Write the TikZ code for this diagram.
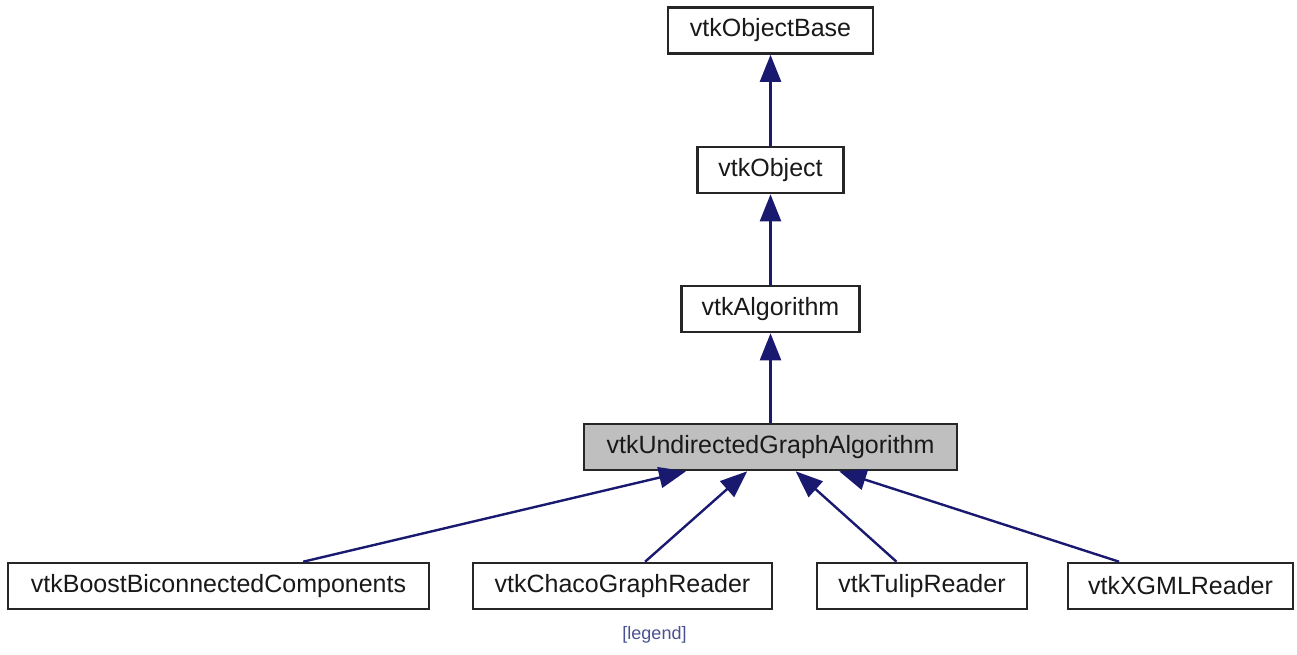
\documentclass[tikz,border=0pt]{standalone}
\usepackage{fontspec}
\setmainfont{Liberation Sans}
\usetikzlibrary{arrows.meta,calc}
\definecolor{edgeblue}{HTML}{191970}
\definecolor{legendblue}{HTML}{4A5190}
\definecolor{focusgray}{HTML}{BFBFBF}
\begin{document}
\begin{tikzpicture}[x=1pt,y=-1pt,
  classbox/.style={draw=black!85, line width=2.6pt, fill=white, rectangle,
    inner sep=0pt, minimum height=46pt, text=black!90,
    font=\fontsize{25}{30}\selectfont},
  focusbox/.style={classbox, fill=focusgray},
  inherit/.style={draw=edgeblue, line width=2.4pt,
    -{Triangle[length=27pt,width=21pt,fill=edgeblue]}},
  legendtext/.style={text=legendblue, font=\fontsize{18}{22}\selectfont}]
  \useasboundingbox (0,0) rectangle (1297,655);

  % class hierarchy, top to bottom
  \node[classbox, minimum width=205pt] (base) at (770.5,30.5) {vtkObjectBase};
  \node[classbox, minimum width=146pt] (obj) at (770.5,170) {vtkObject};
  \node[classbox, minimum width=178pt] (algo) at (770.5,309) {vtkAlgorithm};
  \node[focusbox, minimum width=373pt] (uga) at (770.5,447) {vtkUndirectedGraphAlgorithm};

  % derived readers and filters
  \node[classbox, minimum width=421pt] (boost) at (218.5,586) {vtkBoostBiconnectedComponents};
  \node[classbox, minimum width=299pt] (chaco) at (622.5,586) {vtkChacoGraphReader};
  \node[classbox, minimum width=210pt] (tulip) at (922,586) {vtkTulipReader};
  \node[classbox, minimum width=225pt] (xgml) at (1180.5,586) {vtkXGMLReader};

  \node[legendtext] (legend) at (654.5,635) {[legend]};

  % inheritance arrows point to the base class
  \draw[inherit] (obj.north) -- (obj.north |- base.south);
  \draw[inherit] (algo.north) -- (algo.north |- obj.south);
  \draw[inherit] (uga.north) -- (uga.north |- algo.south);

  \draw[inherit] ($(boost.north west)!0.70!(boost.north east)$) -- ($(uga.south west)!0.275!(uga.south east)$);
  \draw[inherit] ($(chaco.north west)!0.575!(chaco.north east)$) -- ($(uga.south west)!0.438!(uga.south east)$);
  \draw[inherit] ($(tulip.north west)!0.38!(tulip.north east)$) -- ($(uga.south west)!0.567!(uga.south east)$);
  \draw[inherit] ($(xgml.north west)!0.23!(xgml.north east)$) -- ($(uga.south west)!0.683!(uga.south east)$);
\end{tikzpicture}
\end{document}
